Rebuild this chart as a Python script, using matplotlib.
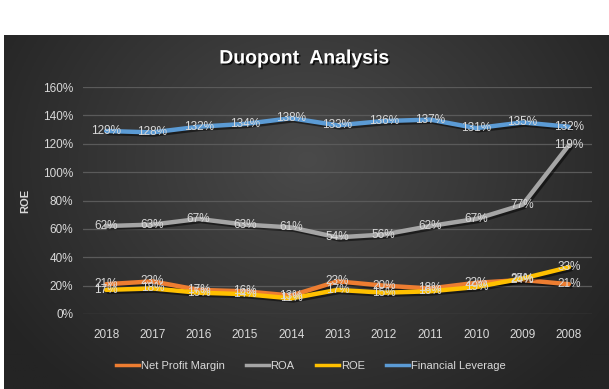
import numpy as np
import matplotlib
matplotlib.use("Agg")
import matplotlib.pyplot as plt
import matplotlib.patheffects as pe
from matplotlib.ticker import FuncFormatter

years = ["2018", "2017", "2016", "2015", "2014", "2013", "2012", "2011", "2010", "2009", "2008"]
net_profit_margin = [21, 23, 17, 16, 13, 23, 20, 18, 22, 24, 21]
roa = [62, 63, 67, 63, 61, 54, 56, 62, 67, 77, 119]
roe = [17, 18, 15, 14, 11, 17, 15, 16, 19, 25, 33]
fin_leverage = [129, 128, 132, 134, 138, 133, 136, 137, 131, 135, 132]

series = [
    ("Net Profit Margin", net_profit_margin, "#ED7D31"),
    ("ROA", roa, "#A5A5A5"),
    ("ROE", roe, "#FFC000"),
    ("Financial Leverage", fin_leverage, "#5B9BD5"),
]

plt.rcParams['font.family'] = ['Liberation Sans', 'DejaVu Sans']
W, H = 609, 389
fig = plt.figure(figsize=(W / 100, H / 100), dpi=100)
fig.patch.set_facecolor("white")

# dark panel with radial gradient
bx0, by_top = 4, 35
bg = fig.add_axes([bx0 / W, 0, (W - bx0) / W, (H - by_top) / H])
bg.set_axis_off()
ny, nx = 200, 300
yy, xx = np.mgrid[0:ny, 0:nx]
cx, cy = nx * 0.5, ny * 0.35
r = np.sqrt(((xx - cx) / nx) ** 2 + ((yy - cy) / ny * 0.7) ** 2)
r = np.clip(r / 0.6, 0, 1)
c_in = np.array([0x4a, 0x4a, 0x4a]) / 255
c_out = np.array([0x24, 0x24, 0x24]) / 255
img = c_in[None, None, :] * (1 - r[..., None]) + c_out[None, None, :] * r[..., None]
bg.imshow(img, aspect="auto", extent=[0, 1, 0, 1], origin="upper")
bg.set_xlim(0, 1)
bg.set_ylim(0, 1)

# plot area
left, right = 83, 592
y0px, y160px = 314, 87
ax = fig.add_axes([left / W, (H - y0px) / H, (right - left) / W, (y0px - y160px) / H])
ax.patch.set_alpha(0)
x = np.arange(len(years))
ax.set_xlim(-0.5, len(years) - 0.5)
ax.set_ylim(0, 160)
ax.set_yticks(np.arange(0, 161, 20))
ax.yaxis.set_major_formatter(FuncFormatter(lambda v, p: f"{int(v)}%"))
ax.set_xticks(x)
ax.set_xticklabels(years)
ax.grid(axis="y", color="#5a5a5a", linewidth=0.9)
ax.set_axisbelow(True)
for s in ax.spines.values():
    s.set_visible(False)
ax.tick_params(length=0, colors="#d9d9d9", labelsize=8.5)
ax.tick_params(axis="x", pad=11)
ax.tick_params(axis="y", pad=7)

shadow = [pe.SimpleLineShadow(offset=(1.5, -1.5), shadow_color="black", alpha=0.5), pe.Normal()]
for name, vals, col in series:
    ax.plot(x, vals, color=col, linewidth=3.2, solid_capstyle="round", label=name,
            path_effects=shadow, zorder=3)
for name, vals, col in series:
    for xi, v in zip(x, vals):
        ax.text(xi, v, f"{v}%", ha="center", va="center", color="#d9d9d9",
                fontsize=8.5, zorder=5)

ax.set_ylabel("ROE", color="#d9d9d9", fontsize=8, fontweight="bold", labelpad=6)
ax.yaxis.set_label_coords((30 - left) / (right - left), 0.5)

fig.text(0.5, (H - 59) / H, "Duopont  Analysis", ha="center", va="center", color="white",
         fontsize=14, fontweight="bold",
         path_effects=[pe.withSimplePatchShadow(offset=(1.2, -1.2), shadow_rgbFace="black", alpha=0.7)])

handles = [plt.Line2D([0], [0], color=c, linewidth=2.5) for _, _, c in series]
leg = fig.legend(handles, [n for n, _, _ in series], loc="center", ncol=4,
                 bbox_to_anchor=(0.51, (H - 366) / H), frameon=False, fontsize=8,
                 handlelength=2.1, handletextpad=0.15, columnspacing=1.9)
for t in leg.get_texts():
    t.set_color("#d9d9d9")

fig.savefig("out.png", dpi=100, facecolor="white")
